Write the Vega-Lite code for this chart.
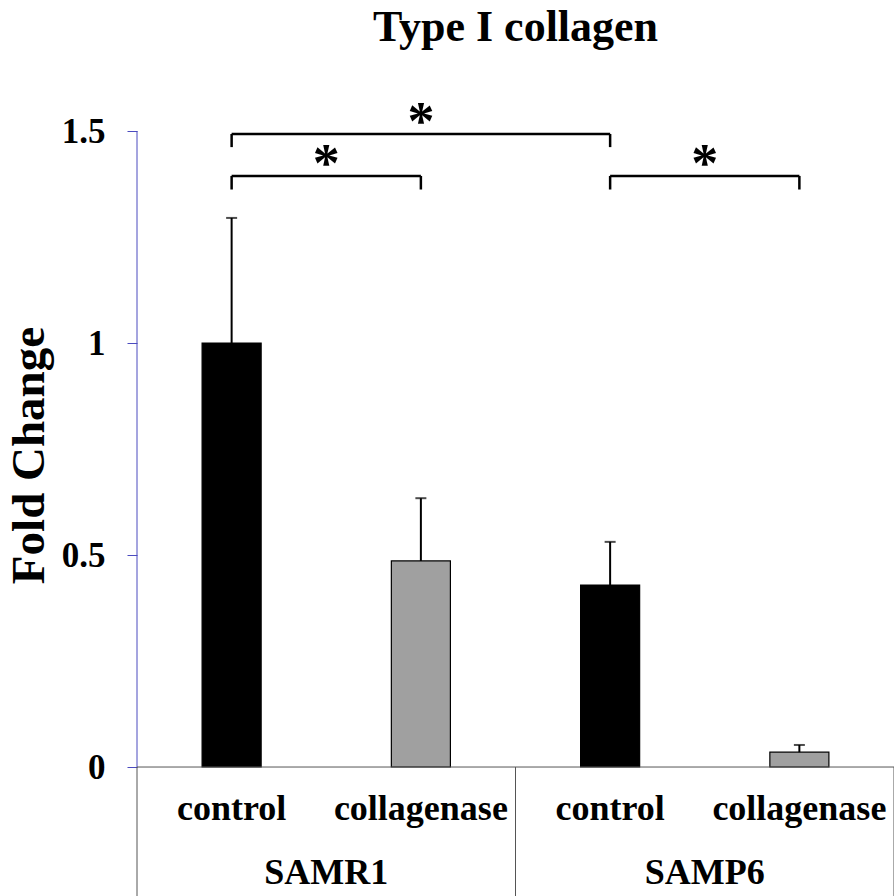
{
  "$schema": "https://vega.github.io/schema/vega-lite/v6.json",
  "autosize": {"type": "none"},
  "padding": {"left": 137, "top": 131, "right": 0, "bottom": 0},
  "width": 757,
  "height": 765,
  "background": "white",
  "title": {"text": "Type I collagen", "fontSize": 44, "fontWeight": "bold", "font": "Liberation Serif", "anchor": "middle", "frame": "group", "offset": 46, "color": "black"},
  "config": {"font": "Liberation Serif", "view": {"stroke": null}},
  "datasets": {
    "bars": [
      {"at": "SAMR1 control", "cond": "control", "value": 1.0, "upper": 1.295},
      {"at": "SAMR1 collagenase", "cond": "collagenase", "value": 0.486, "upper": 0.634},
      {"at": "SAMP6 control", "cond": "control", "value": 0.429, "upper": 0.531},
      {"at": "SAMP6 collagenase", "cond": "collagenase", "value": 0.035, "upper": 0.052}
    ],
    "brackets": [
      {"from": "SAMR1 control", "to": "SAMP6 control", "y": 1.493, "leg": 1.462},
      {"from": "SAMR1 control", "to": "SAMR1 collagenase", "y": 1.394, "leg": 1.362},
      {"from": "SAMP6 control", "to": "SAMP6 collagenase", "y": 1.394, "leg": 1.362}
    ],
    "starsMid": [{"at": "SAMR1 collagenase", "y": 1.493}],
    "starsEdge": [{"at": "SAMR1 collagenase", "y": 1.394}, {"at": "SAMP6 collagenase", "y": 1.394}],
    "groups": [{"at": "SAMR1 collagenase", "group": "SAMR1"}, {"at": "SAMP6 collagenase", "group": "SAMP6"}],
    "dividers": [{"at": "SAMR1 control"}, {"at": "SAMP6 control"}],
    "rightEdge": [{"at": "SAMP6 collagenase"}],
    "yAxisLine": [{"at": "SAMR1 control"}],
    "xAxisLine": [{"base": 0}]
  },
  "layer": [
    {
      "data": {"name": "bars"},
      "mark": {"type": "bar", "width": {"band": 0.312}, "stroke": "black", "strokeWidth": 1.2},
      "encoding": {
        "x": {"field": "at", "type": "nominal", "scale": {"domain": ["SAMR1 control", "SAMR1 collagenase", "SAMP6 control", "SAMP6 collagenase"], "paddingInner": 0, "paddingOuter": 0}, "axis": null},
        "y": {
          "field": "value", "type": "quantitative",
          "scale": {"domain": [-0.3042, 1.5], "nice": false, "zero": false},
          "axis": {
            "title": "Fold Change", "values": [0, 0.5, 1, 1.5], "labelExpr": "datum.value + ''",
            "domain": false, "ticks": true, "tickColor": "#4b4bbf", "tickSize": 10, "tickWidth": 1, "grid": false,
            "labelFont": "Liberation Serif", "labelFontSize": 35, "labelFontWeight": "bold", "labelColor": "black", "labelPadding": 22,
            "titleFont": "Liberation Serif", "titleFontSize": 47, "titleFontWeight": "bold", "titleColor": "black", "titlePadding": 8, "titleY": 324
          }
        },
        "y2": {"datum": 0},
        "fill": {"field": "cond", "type": "nominal", "scale": {"domain": ["control", "collagenase"], "range": ["black", "#a0a0a0"]}, "legend": null}
      }
    },
    {
      "data": {"name": "bars"},
      "mark": {"type": "rule", "color": "black", "strokeWidth": 2},
      "encoding": {
        "x": {"field": "at", "type": "nominal", "axis": null},
        "y": {"field": "value", "type": "quantitative"},
        "y2": {"field": "upper"}
      }
    },
    {
      "data": {"name": "bars"},
      "mark": {"type": "tick", "orient": "horizontal", "size": 11, "thickness": 2, "color": "black"},
      "encoding": {
        "x": {"field": "at", "type": "nominal", "axis": null},
        "y": {"field": "upper", "type": "quantitative"}
      }
    },
    {
      "data": {"name": "yAxisLine"},
      "mark": {"type": "rule", "color": "#4b4bbf", "strokeWidth": 1},
      "encoding": {
        "x": {"field": "at", "type": "nominal", "bandPosition": 0, "axis": null},
        "y": {"datum": 0, "type": "quantitative"},
        "y2": {"datum": 1.5}
      }
    },
    {
      "data": {"name": "xAxisLine"},
      "mark": {"type": "rule", "color": "#555555", "strokeWidth": 1},
      "encoding": {
        "y": {"field": "base", "type": "quantitative"}
      }
    },
    {
      "data": {"name": "dividers"},
      "mark": {"type": "rule", "color": "#555555", "strokeWidth": 1},
      "encoding": {
        "x": {"field": "at", "type": "nominal", "bandPosition": 0, "axis": null},
        "y": {"datum": 0, "type": "quantitative"},
        "y2": {"datum": -0.3042}
      }
    },
    {
      "data": {"name": "rightEdge"},
      "mark": {"type": "rule", "color": "#555555", "strokeWidth": 1},
      "encoding": {
        "x": {"field": "at", "type": "nominal", "bandPosition": 1, "axis": null},
        "y": {"datum": 0, "type": "quantitative"},
        "y2": {"datum": -0.3042}
      }
    },
    {
      "data": {"name": "bars"},
      "mark": {"type": "text", "fontSize": 36, "fontWeight": "bold", "font": "Liberation Serif", "baseline": "alphabetic", "color": "black"},
      "encoding": {
        "x": {"field": "at", "type": "nominal", "axis": null},
        "y": {"datum": -0.125, "type": "quantitative"},
        "text": {"field": "cond"}
      }
    },
    {
      "data": {"name": "groups"},
      "mark": {"type": "text", "fontSize": 36, "fontWeight": "bold", "font": "Liberation Serif", "baseline": "alphabetic", "color": "black"},
      "encoding": {
        "x": {"field": "at", "type": "nominal", "bandPosition": 0, "axis": null},
        "y": {"datum": -0.276, "type": "quantitative"},
        "text": {"field": "group"}
      }
    },
    {
      "data": {"name": "brackets"},
      "mark": {"type": "rule", "color": "black", "strokeWidth": 2.5},
      "encoding": {
        "x": {"field": "from", "type": "nominal", "axis": null},
        "x2": {"field": "to"},
        "y": {"field": "y", "type": "quantitative"}
      }
    },
    {
      "data": {"name": "brackets"},
      "mark": {"type": "rule", "color": "black", "strokeWidth": 2.5},
      "encoding": {
        "x": {"field": "from", "type": "nominal", "axis": null},
        "y": {"field": "y", "type": "quantitative"},
        "y2": {"field": "leg"}
      }
    },
    {
      "data": {"name": "brackets"},
      "mark": {"type": "rule", "color": "black", "strokeWidth": 2.5},
      "encoding": {
        "x": {"field": "to", "type": "nominal", "axis": null},
        "y": {"field": "y", "type": "quantitative"},
        "y2": {"field": "leg"}
      }
    },
    {
      "data": {"name": "starsMid"},
      "mark": {"type": "text", "text": "*", "fontSize": 54, "fontWeight": "bold", "font": "Liberation Serif", "baseline": "alphabetic", "dy": 5, "color": "black"},
      "encoding": {
        "x": {"field": "at", "type": "nominal", "axis": null},
        "y": {"field": "y", "type": "quantitative"}
      }
    },
    {
      "data": {"name": "starsEdge"},
      "mark": {"type": "text", "text": "*", "fontSize": 54, "fontWeight": "bold", "font": "Liberation Serif", "baseline": "alphabetic", "dy": 5, "color": "black"},
      "encoding": {
        "x": {"field": "at", "type": "nominal", "bandPosition": 0, "axis": null},
        "y": {"field": "y", "type": "quantitative"}
      }
    }
  ]
}
